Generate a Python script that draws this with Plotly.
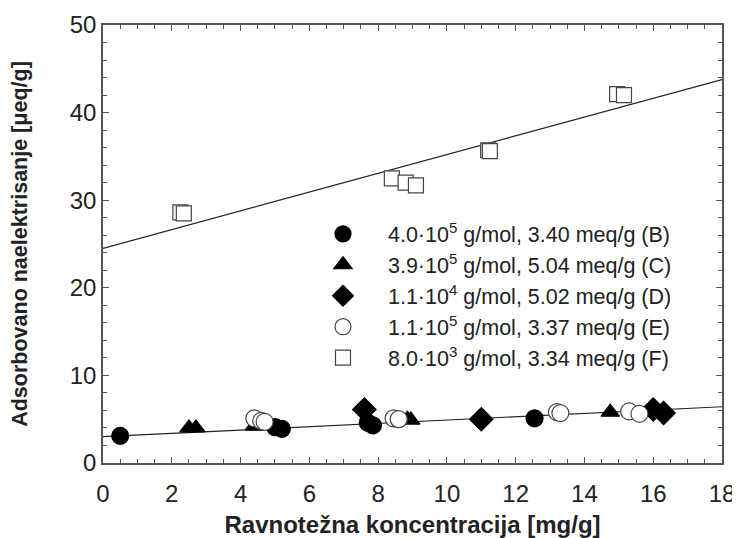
import plotly.graph_objects as go
import numpy as np

# Data
B_x = [0.5, 5.0, 5.2, 7.7, 7.85, 12.55]
B_y = [3.1, 4.1, 3.9, 4.6, 4.3, 5.1]
C_x = [2.5, 2.7, 4.4, 8.85, 8.95, 14.75]
C_y = [4.0, 4.0, 4.2, 5.0, 4.9, 5.8]
D_x = [7.6, 11.0, 16.0, 16.3]
D_y = [6.1, 5.0, 6.1, 5.7]
E_x = [4.4, 4.6, 4.7, 8.45, 8.6, 13.2, 13.3, 15.3, 15.6]
E_y = [5.1, 4.8, 4.7, 5.1, 5.0, 5.8, 5.7, 5.9, 5.6]
F_x = [2.25, 2.35, 8.4, 8.8, 9.1, 11.2, 11.25, 14.95, 15.15]
F_y = [28.6, 28.5, 32.5, 32.0, 31.7, 35.7, 35.6, 42.1, 42.0]

# linear fits (intercept, slope)
fit_low = (3.0, 0.19)
fit_high = (24.5, 1.07)
fit_x = [0, 18]

labels = [
    "4.0·10<sup>5</sup> g/mol, 3.40 meq/g (B)",
    "3.9·10<sup>5</sup> g/mol, 5.04 meq/g (C)",
    "1.1·10<sup>4</sup> g/mol, 5.02 meq/g (D)",
    "1.1·10<sup>5</sup> g/mol, 3.37 meq/g (E)",
    "8.0·10<sup>3</sup> g/mol, 3.34 meq/g (F)",
]

FONT = "Liberation Sans"

fig = go.Figure()
for intercept, slope in (fit_low, fit_high):
    fx = np.array(fit_x, dtype=float)
    fig.add_trace(go.Scatter(x=fx, y=intercept + slope * fx, mode="lines",
                             line=dict(color="#222", width=1.2),
                             showlegend=False, hoverinfo="skip"))

series = [
    (B_x, B_y, "circle", "black", "black"),
    (C_x, C_y, "triangle-up", "black", "black"),
    (D_x, D_y, "diamond", "black", "black"),
    (E_x, E_y, "circle", "white", "#444"),
    (F_x, F_y, "square", "white", "#444"),
]
sizes = [17, 16, 18, 17, 15]
for (xs, ys, sym, fill, edge), lab, sz in zip(series, labels, sizes):
    fig.add_trace(go.Scatter(x=xs, y=ys, mode="markers", name=lab,
                             marker=dict(symbol=sym, size=sz, color=fill,
                                         line=dict(color=edge, width=1.2))))

axis_common = dict(showline=True, linecolor="#555", linewidth=1.5, mirror="allticks",
                   ticks="inside", tickcolor="#555", ticklen=6, tickwidth=1.2,
                   showgrid=False, zeroline=False, automargin=False,
                   tickfont=dict(family=FONT, size=24, color="#222"))

fig.update_xaxes(range=[0, 18], dtick=2, ticklabelstandoff=8,
                 minor=dict(dtick=0.5, ticks="inside", ticklen=4, tickcolor="#555", tickwidth=1),
                 title=dict(text="<b>Ravnotežna koncentracija [mg/g]</b>",
                            font=dict(family=FONT, size=24, color="#222"), standoff=12),
                 **axis_common)
fig.update_yaxes(range=[0, 50], dtick=10,
                 minor=dict(dtick=2, ticks="inside", ticklen=4, tickcolor="#555", tickwidth=1),
                 title=dict(text="<b>Adsorbovano naelektrisanje [μeq/g]</b>",
                            font=dict(family=FONT, size=21.5, color="#222"), standoff=44),
                 **axis_common)

fig.update_layout(width=732, height=530,
                  margin=dict(l=95, r=18, t=17, b=75),
                  plot_bgcolor="white", paper_bgcolor="white",
                  legend=dict(x=0.315, y=0.57, xanchor="left", yanchor="top",
                              bgcolor="rgba(0,0,0,0)", itemwidth=80, tracegroupgap=0,
                              font=dict(family=FONT, size=21.5, color="#222")))

fig.write_html("out.html")
